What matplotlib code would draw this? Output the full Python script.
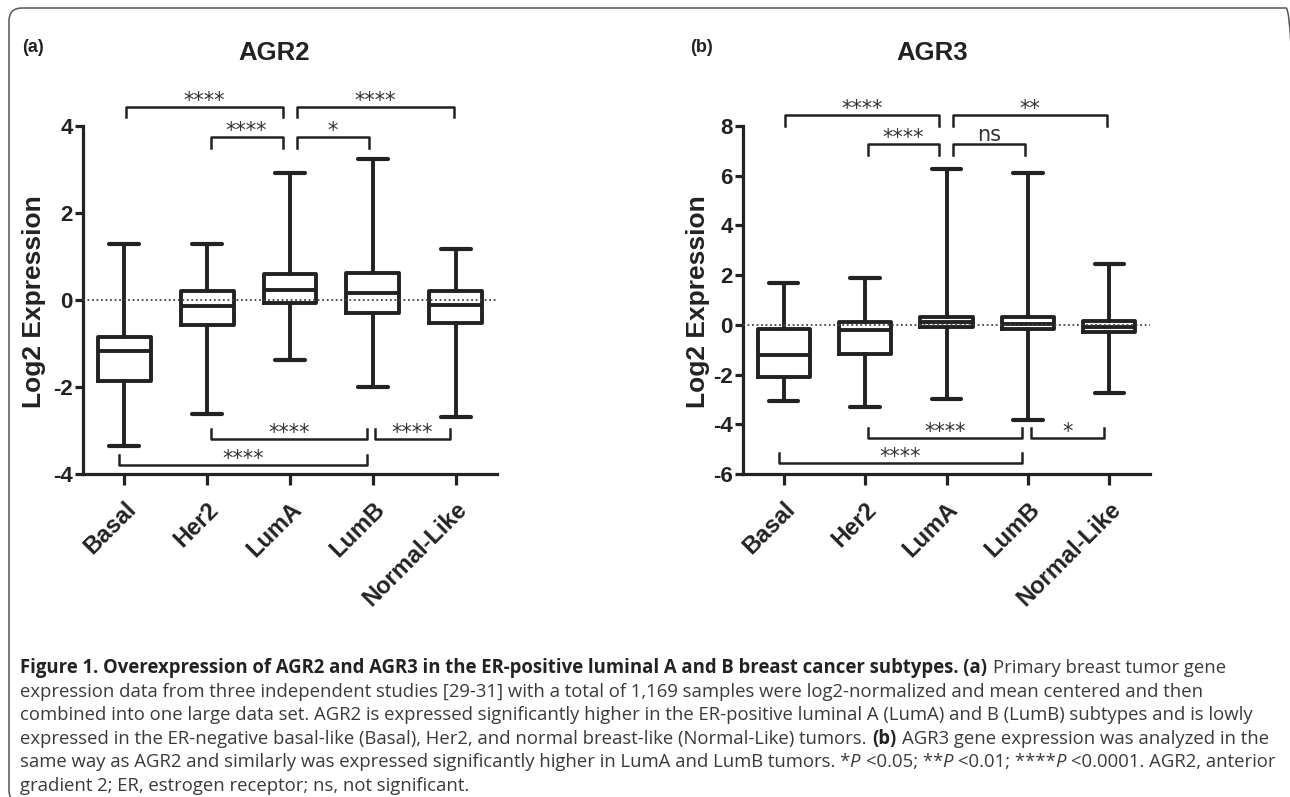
import matplotlib
matplotlib.use("Agg")
import matplotlib.pyplot as plt
from matplotlib.patches import FancyBboxPatch
from matplotlib.transforms import IdentityTransform

plt.rcParams["font.family"] = ["Liberation Sans", "DejaVu Sans"]

# categories
categories = ["Basal", "Her2", "LumA", "LumB", "Normal-Like"]

# AGR2 box values
agr2_whislo = [-3.36, -2.63, -1.37, -2.00, -2.69]
agr2_q1 = [-1.86, -0.57, -0.06, -0.29, -0.52]
agr2_med = [-1.17, -0.14, 0.22, 0.15, -0.12]
agr2_q3 = [-0.86, 0.20, 0.60, 0.63, 0.21]
agr2_whishi = [1.29, 1.28, 2.91, 3.24, 1.17]

# AGR3 box values
agr3_whislo = [-3.06, -3.30, -3.00, -3.81, -2.74]
agr3_q1 = [-2.08, -1.18, -0.10, -0.18, -0.30]
agr3_med = [-1.20, -0.20, 0.10, 0.03, -0.10]
agr3_q3 = [-0.16, 0.12, 0.33, 0.32, 0.15]
agr3_whishi = [1.69, 1.90, 6.28, 6.09, 2.45]

# significance brackets: x start, x end, bar height, label, leg (signed)
agr2_brackets = [
    (0.02, 1.91, 4.43, "****", -0.23),
    (2.08, 3.98, 4.43, "****", -0.23),
    (1.04, 1.91, 3.74, "****", -0.25),
    (2.08, 2.96, 3.74, "*", -0.25),
    (1.04, 2.93, -3.20, "****", 0.24),
    (3.03, 3.93, -3.20, "****", 0.24),
    (-0.06, 2.93, -3.79, "****", 0.23),
]
agr3_brackets = [
    (0.02, 1.91, 8.45, "****", -0.43),
    (2.08, 3.97, 8.45, "**", -0.43),
    (1.03, 1.91, 7.27, "****", -0.43),
    (2.08, 2.96, 7.27, "ns", -0.43),
    (1.03, 2.93, -4.54, "****", 0.41),
    (3.04, 3.93, -4.54, "*", 0.41),
    (-0.06, 2.93, -5.57, "****", 0.40),
]

agr2_ticks = [-4, -2, 0, 2, 4]
agr3_ticks = [-6, -4, -2, 0, 2, 4, 6, 8]

ink = "#222222"
W, H = 1290, 797
fig = plt.figure(figsize=(W / 100, H / 100), dpi=100)


def make_stats(lo, q1, med, q3, hi):
    return [dict(whislo=a, q1=b, med=c, q3=d, whishi=e, fliers=[])
            for a, b, c, d, e in zip(lo, q1, med, q3, hi)]


def draw_panel(ax, stats, ticks, brackets, label_x):
    ax.bxp(stats, positions=range(len(categories)), widths=0.64, capwidths=0.36,
           showfliers=False, manage_ticks=False,
           boxprops=dict(color=ink, lw=2.8),
           medianprops=dict(color=ink, lw=2.8),
           whiskerprops=dict(color=ink, lw=2.8),
           capprops=dict(color=ink, lw=3.0, solid_capstyle="round"))
    ax.axhline(0, color="#444444", lw=1.3, ls=(0, (1, 1.5)), zorder=5)
    ax.set_xlim(-0.5, 4.5)
    ax.set_ylim(ticks[0], ticks[-1])
    ax.set_yticks(ticks, labels=[str(t) for t in ticks], fontsize=16,
                  fontweight="bold", color=ink)
    ax.set_xticks(range(len(categories)), labels=categories, fontsize=17,
                  fontweight="bold", color=ink, rotation=45, ha="right", va="top",
                  rotation_mode="anchor")
    for s in ["top", "right"]:
        ax.spines[s].set_visible(False)
    for s in ["left", "bottom"]:
        ax.spines[s].set_linewidth(2.3)
        ax.spines[s].set_color(ink)
    ax.tick_params(axis="y", length=6, width=2.3, pad=1.5, color=ink)
    ax.tick_params(axis="x", length=8, width=2.3, pad=9, color=ink)
    for x1, x2, y, txt, leg in brackets:
        ax.plot([x1, x1, x2, x2], [y + leg, y, y, y + leg], color=ink, lw=1.8,
                clip_on=False)
        off = 2 if txt == "ns" else 0
        ax.annotate(txt, ((x1 + x2) / 2, y), xytext=(0, off), textcoords="offset points",
                    ha="center", va="baseline", fontsize=15, color="#333333",
                    family="DejaVu Sans", annotation_clip=False)
    ax.text(label_x, 0.494, "Log2 Expression", transform=ax.transAxes, rotation=90,
            ha="center", va="center", fontsize=19, fontweight="bold", color=ink)


ax1 = fig.add_axes([83 / W, 1 - 474 / H, 414 / W, 348 / H])
draw_panel(ax1, make_stats(agr2_whislo, agr2_q1, agr2_med, agr2_q3, agr2_whishi),
           agr2_ticks, agr2_brackets, -0.118)
ax2 = fig.add_axes([743 / W, 1 - 474 / H, 407 / W, 348 / H])
draw_panel(ax2, make_stats(agr3_whislo, agr3_q1, agr3_med, agr3_q3, agr3_whishi),
           agr3_ticks, agr3_brackets, -0.11)

# titles and panel letters
fig.text(274 / W, 1 - 53 / H, "AGR2", ha="center", va="center", fontsize=18.5,
         fontweight="bold", color=ink)
fig.text(932 / W, 1 - 53 / H, "AGR3", ha="center", va="center", fontsize=18.5,
         fontweight="bold", color=ink)
fig.text(22 / W, 1 - 48 / H, "(a)", ha="left", va="center", fontsize=13,
         fontweight="bold", color=ink)
fig.text(690 / W, 1 - 48 / H, "(b)", ha="left", va="center", fontsize=13,
         fontweight="bold", color=ink)

# frame round the figure
frame = FancyBboxPatch((9, -6), 1290, 795, boxstyle="round,pad=0,rounding_size=13",
                       transform=IdentityTransform(), fill=False, lw=1.1, ec="#555555")
fig.patches.append(frame)

# caption
caption = [
    [("Figure 1. Overexpression of AGR2 and AGR3 in the ER-positive luminal A and B "
      "breast cancer subtypes. (a)", "b", False), ("Primary breast tumor gene", "r", True)],
    [("expression data from three independent studies [29-31] with a total of 1,169 "
      "samples were log2-normalized and mean centered and then", "r", False)],
    [("combined into one large data set. AGR2 is expressed significantly higher in the "
      "ER-positive luminal A (LumA) and B (LumB) subtypes and is lowly", "r", False)],
    [("expressed in the ER-negative basal-like (Basal), Her2, and normal breast-like "
      "(Normal-Like) tumors.", "r", False), ("(b)", "b", True),
     ("AGR3 gene expression was analyzed in the", "r", True)],
    [("same way as AGR2 and similarly was expressed significantly higher in LumA and "
      "LumB tumors. *", "r", False), ("P", "i", False), ("<0.05; **", "r", True),
     ("P", "i", False), ("<0.01; ****", "r", True), ("P", "i", False),
     ("<0.0001. AGR2, anterior", "r", True)],
    [("gradient 2; ER, estrogen receptor; ns, not significant.", "r", False)],
]

renderer = fig.canvas.get_renderer()
cap_font = "Open Sans"
probe = fig.text(0, 0, caption[2][0][0], fontsize=10, family=cap_font,
                 transform=IdentityTransform())
cap_size = 10 * 1235 / probe.get_window_extent(renderer).width
probe.remove()
p1 = fig.text(0, 0, "a a", fontsize=cap_size, family=cap_font, transform=IdentityTransform())
p2 = fig.text(0, 0, "aa", fontsize=cap_size, family=cap_font, transform=IdentityTransform())
space_w = p1.get_window_extent(renderer).width - p2.get_window_extent(renderer).width
p1.remove()
p2.remove()

styles = {"r": ("normal", "normal", "#3a3a3a"), "b": ("bold", "normal", "#222222"),
          "i": ("normal", "italic", "#3a3a3a")}
for k, line in enumerate(caption):
    x = 20
    base = H - (673 + 23.6 * k)
    for txt, kind, gap in line:
        if gap:
            x += space_w
        elif x > 20:
            x -= 2
        wgt, sty, col = styles[kind]
        t = fig.text(x, base, txt, fontsize=cap_size, family=cap_font, fontweight=wgt,
                     style=sty, color=col, va="baseline", transform=IdentityTransform())
        x = t.get_window_extent(renderer).x1 + 1

fig.savefig("out.png", dpi=100)
